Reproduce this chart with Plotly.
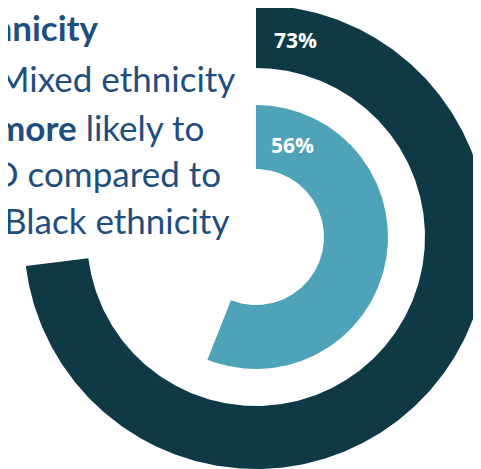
import numpy as np
import plotly.graph_objects as go

# ---- data ----
series_names = ["Mixed ethnicity", "Black ethnicity"]
percent_values = [73, 56]
text_lines = [
    "<b>Ethnicity</b>",
    "Mixed ethnicity",
    "<b>more</b> likely to",
    "ADHD compared to",
    "Black ethnicity",
]

# ---- layout / style constants ----
W, H = 481, 469
PAGE_OFFSET = 8          # default body margin of the written page
CX, CY = 256, 237
ring_radii = [(169, 232), (68, 132)]       # (inner, outer) per ring
ring_colors = ["#0e3945", "#4fa3b8"]
label_pos = [(272, 40), (269, 145)]
text_color = "#1f4e7e"
line_right = [101, 237, 206, 223, 231]
line_mid = [27, 78, 127, 173, 220]
FONT = "Lato"

fig = go.Figure()

for name, v, (r0, r1), col in zip(series_names, percent_values, ring_radii, ring_colors):
    th = np.linspace(0, v / 100 * 2 * np.pi, 400)
    xs = np.concatenate([CX + r1 * np.sin(th), CX + r0 * np.sin(th[::-1])])
    ys = np.concatenate([CY - r1 * np.cos(th), CY - r0 * np.cos(th[::-1])])
    fig.add_trace(go.Scatter(
        x=xs, y=ys, mode="lines", fill="toself", fillcolor=col,
        line=dict(width=0, color=col), name=name, hoverinfo="skip",
        showlegend=False,
    ))

for v, (lx, ly) in zip(percent_values, label_pos):
    fig.add_annotation(
        x=lx, y=ly, xref="x", yref="y", text=f"<b>{v}%</b>", showarrow=False,
        xanchor="left", yanchor="middle",
        font=dict(family="Open Sans", size=21, color="white"),
    )

for t, xr, ym in zip(text_lines, line_right, line_mid):
    fig.add_annotation(
        x=xr, y=ym, xref="x", yref="y", text=t, showarrow=False,
        xanchor="right", yanchor="middle",
        font=dict(family=FONT, size=35, color=text_color),
    )

fig.update_xaxes(range=[PAGE_OFFSET, W + PAGE_OFFSET], visible=False, fixedrange=True)
fig.update_yaxes(range=[H + PAGE_OFFSET, PAGE_OFFSET], visible=False, fixedrange=True)
fig.update_layout(
    width=W, height=H, margin=dict(l=0, r=0, t=0, b=0),
    paper_bgcolor="white", plot_bgcolor="white", showlegend=False,
)

fig.write_html("out.html")
